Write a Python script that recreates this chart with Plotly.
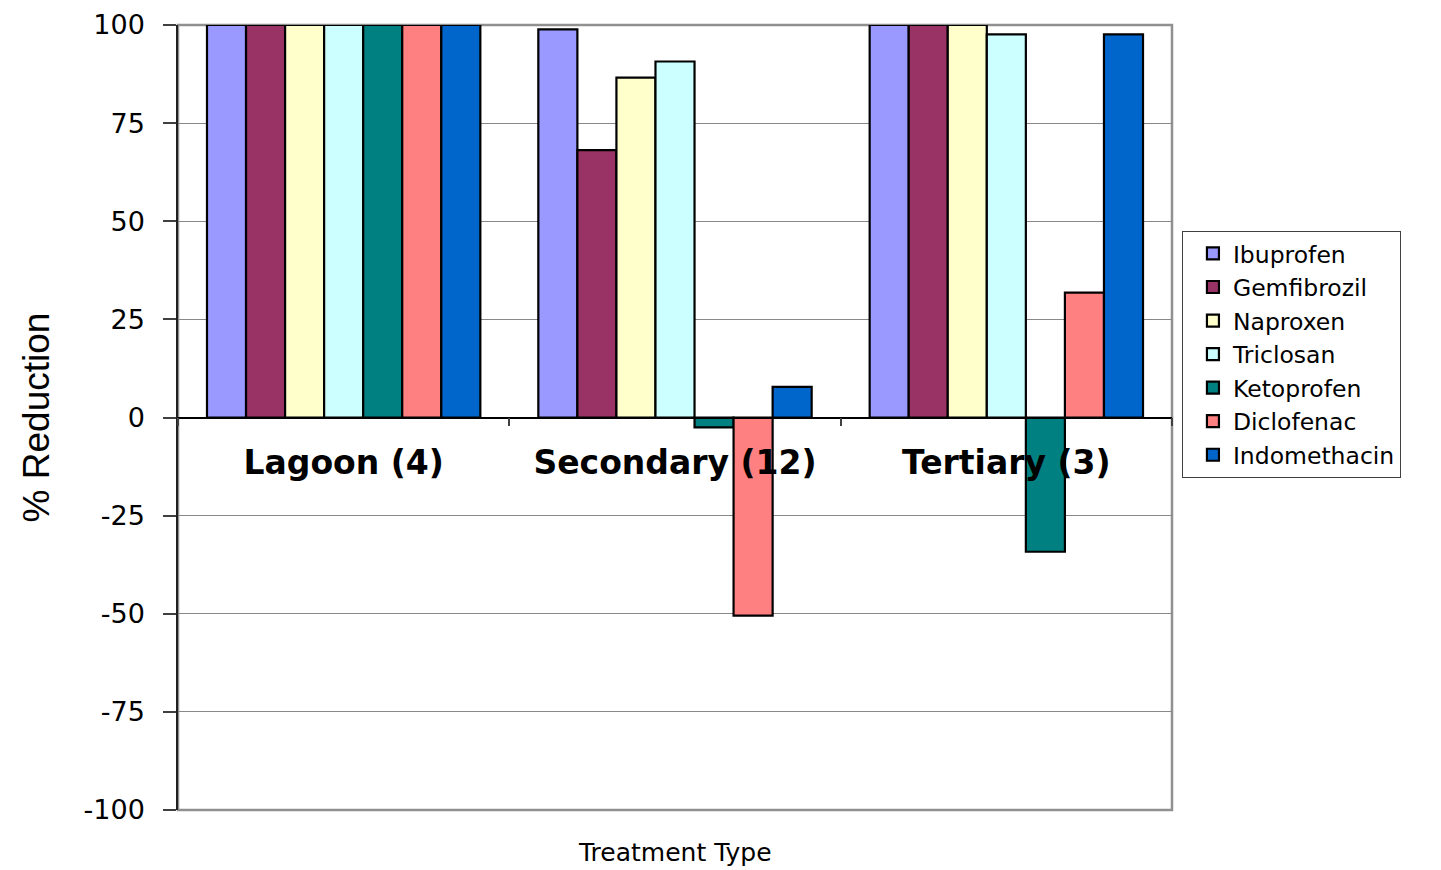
import plotly.graph_objects as go

categories = ["Lagoon (4)", "Secondary (12)", "Tertiary (3)"]
compounds = ["Ibuprofen", "Gemfibrozil", "Naproxen", "Triclosan",
             "Ketoprofen", "Diclofenac", "Indomethacin"]
colors = ["#9999FF", "#993366", "#FFFFCC", "#CCFFFF",
          "#008080", "#FF8080", "#0066CC"]

ibuprofen = [100, 98.9, 100]
gemfibrozil = [100, 68.1, 100]
naproxen = [100, 86.6, 100]
triclosan = [100, 90.7, 97.6]
ketoprofen = [100, -2.5, -34.2]
diclofenac = [100, -50.5, 31.8]
indomethacin = [100, 7.8, 97.6]
series = [ibuprofen, gemfibrozil, naproxen, triclosan,
          ketoprofen, diclofenac, indomethacin]

y_ticks = [100, 75, 50, 25, 0, -25, -50, -75, -100]
y_tick_labels = ["100", "75", "50", "25", "0", "-25", "-50", "-75", "-100"]

fig = go.Figure()
for name, vals, col in zip(compounds, series, colors):
    fig.add_trace(go.Bar(
        name=name, x=categories, y=vals,
        marker=dict(color=col, line=dict(color="black", width=2.2)),
    ))

fig.update_layout(
    width=1433, height=862,
    barmode="group", bargap=0.175, bargroupgap=0,
    plot_bgcolor="white", paper_bgcolor="white",
    margin=dict(l=170, r=269, t=17, b=60, autoexpand=False),
    font=dict(family="DejaVu Sans", color="black"),
    showlegend=True,
    legend=dict(
        x=1.010, y=0.738, xanchor="left", yanchor="top",
        bordercolor="#404040", borderwidth=1,
        font=dict(family="DejaVu Sans", size=23.5, color="black"),
        itemwidth=30, tracegroupgap=0, indentation=10,
        entrywidth=260, entrywidthmode="pixels",
    ),
    xaxis=dict(
        anchor="free", position=0.5,
        showline=True, linecolor="black", linewidth=1.5,
        ticks="outside", ticklen=8, tickcolor="#404040", tickwidth=1.5,
        tickson="boundaries", ticklabelstandoff=16,
        tickfont=dict(family="DejaVu Sans", size=33, color="black", weight="bold"),
        showgrid=False, zeroline=False,
    ),
    yaxis=dict(
        range=[-100, 100], tickvals=y_ticks, ticktext=y_tick_labels,
        showline=True, linecolor="#202020", linewidth=1.5,
        ticks="outside", ticklen=13, tickcolor="#404040", tickwidth=1.5,
        ticklabelstandoff=13, ticklabeloverflow="allow",
        tickfont=dict(family="DejaVu Sans", size=27, color="black"),
        showgrid=True, gridcolor="#888888", gridwidth=1.2,
        zeroline=False,
        title=dict(text="% Reduction", standoff=23,
                   font=dict(family="Liberation Sans", size=37, color="black")),
    ),
    shapes=[dict(type="rect", xref="paper", yref="paper", x0=0, x1=1, y0=0, y1=1,
                 line=dict(color="#909090", width=2.5), layer="below")],
    annotations=[dict(text="Treatment Type", xref="paper", yref="paper",
                      x=0.5, y=-0.054, xanchor="center", yanchor="middle",
                      showarrow=False,
                      font=dict(family="DejaVu Sans", size=25, color="black"))],
)

fig.write_html("out.html")
